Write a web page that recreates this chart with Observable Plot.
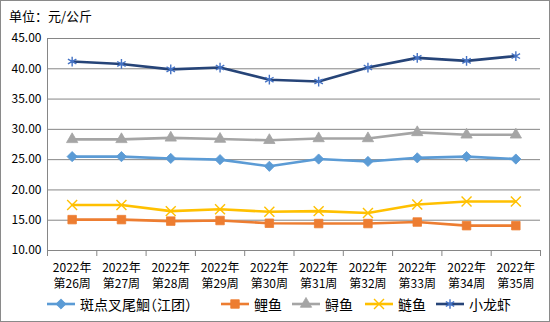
<!DOCTYPE html>
<html>
<head>
<meta charset="utf-8">
<script src="https://cdn.jsdelivr.net/npm/d3@7"></script>
<script src="https://cdn.jsdelivr.net/npm/@observablehq/plot@0.6"></script>
<style>
  html, body { margin: 0; padding: 0; background: #fff; }
  #wrap { position: relative; width: 550px; height: 322px; overflow: hidden; font-family: "Noto Sans CJK SC", sans-serif; }
  #border { position: absolute; left: 0; top: 0; width: 548px; height: 320px; border: 1px solid #8a8a8a; pointer-events: none; }
  #title { position: absolute; left: 9px; top: 8px; font-size: 13px; color: #000; line-height: 16px; }
  #chart { position: absolute; left: 0; top: 0; }
  .leg { position: absolute; top: 295px; display: flex; align-items: center; font-size: 14px; color: #000; line-height: 18px; font-feature-settings: "halt"; }
  .leg svg { margin-right: 5px; }
</style>
</head>
<body>
<div id="wrap">
  <div id="chart"></div>
  <div id="title">单位：元/公斤</div>
  <div id="legend"></div>
  <div id="border"></div>
</div>
<script>
const year = "2022年";
const weeks = ["第26周","第27周","第28周","第29周","第30周","第31周","第32周","第33周","第34周","第35周"];
const yTicks = [10, 15, 20, 25, 30, 35, 40, 45];

const seriesNames = ["斑点叉尾鮰（江团）", "鲤鱼", "鲟鱼", "鲢鱼", "小龙虾"];
const banDian = [25.5, 25.5, 25.2, 25.0, 23.9, 25.1, 24.7, 25.3, 25.5, 25.1];
const liYu    = [15.1, 15.1, 14.85, 14.95, 14.5, 14.45, 14.45, 14.7, 14.1, 14.1];
const xunYu   = [28.35, 28.35, 28.6, 28.4, 28.2, 28.5, 28.5, 29.5, 29.1, 29.1];
const lianYu  = [17.5, 17.5, 16.5, 16.8, 16.4, 16.5, 16.2, 17.6, 18.1, 18.1];
const xiaLongXia = [41.2, 40.8, 39.9, 40.2, 38.2, 37.9, 40.2, 41.8, 41.3, 42.1];

const seriesValues = [banDian, liYu, xunYu, lianYu, xiaLongXia];
const lineColors   = ["#5B9BD5", "#ED7D31", "#A5A5A5", "#FFC000", "#264478"];
const markColors   = ["#5B9BD5", "#ED7D31", "#A5A5A5", "#FFC000", "#4472C4"];
const symbols      = ["diamond2", "square", "triangle", "times", "asterisk"];
const symbolR      = [4.6, 4.8, 4.2, 4.6, 4.6];
const filled       = [true, true, true, false, false];

const centers = weeks.map((_, i) => i + 1);
const bounds = d3.range(weeks.length + 1).map(i => i + 0.5);

const marks = [
  Plot.gridY(yTicks, {stroke: "#868686", strokeOpacity: 1}),
  Plot.axisY(yTicks, {tickSize: 0, tickPadding: 6, tickFormat: d => d.toFixed(2), label: null, fill: "#000"}),
  Plot.ruleX([0.5], {stroke: "#868686"}),
  Plot.ruleY([10], {stroke: "#868686"}),
  Plot.axisX(bounds, {tickSize: 6, tickFormat: () => "", label: null, stroke: "#868686"}),
  Plot.axisX(centers, {tickSize: 0, tickPadding: 10, tickFormat: i => year + "\n" + weeks[i - 1], label: null, lineHeight: 1.35, fill: "#000"})
];

seriesNames.forEach((name, si) => {
  const rows = seriesValues[si].map((v, i) => ({series: name, week: i + 1, value: v}));
  marks.push(Plot.line(rows, {x: "week", y: "value", stroke: lineColors[si], strokeWidth: 2.6, strokeLinejoin: "round"}));
  if (filled[si]) {
    marks.push(Plot.dot(rows, {x: "week", y: "value", symbol: () => symbols[si], r: symbolR[si], fill: markColors[si], stroke: markColors[si], strokeWidth: 0.8}));
  } else {
    marks.push(Plot.dot(rows, {x: "week", y: "value", symbol: () => symbols[si], r: symbolR[si], stroke: markColors[si], strokeWidth: 1.4}));
  }
});

const chart = Plot.plot({
  width: 550, height: 322,
  marginTop: 38, marginBottom: 72, marginLeft: 47, marginRight: 10,
  x: {domain: [0.5, 10.5], axis: null},
  y: {domain: [10, 45], axis: null},
  symbol: {type: "identity"},
  style: {fontFamily: "'Noto Sans CJK SC', sans-serif", fontSize: "12px", background: "transparent", color: "#000"},
  marks
});
document.getElementById("chart").appendChild(chart);

// legend
const legendX = [47, 221, 292, 365, 436];
const legend = document.getElementById("legend");
seriesNames.forEach((name, si) => {
  const div = document.createElement("div");
  div.className = "leg";
  div.style.left = legendX[si] + "px";
  const svg = d3.create("svg").attr("width", 28).attr("height", 18);
  svg.append("line").attr("x1", 0).attr("x2", 28).attr("y1", 9).attr("y2", 9)
    .attr("stroke", lineColors[si]).attr("stroke-width", 2.6);
  const symMap = {diamond2: d3.symbolDiamond2, square: d3.symbolSquare, triangle: d3.symbolTriangle, times: d3.symbolTimes, asterisk: d3.symbolAsterisk};
  const p = svg.append("path").attr("transform", "translate(14,9)")
    .attr("d", d3.symbol(symMap[symbols[si]], Math.PI * symbolR[si] * symbolR[si])());
  if (filled[si]) p.attr("fill", markColors[si]).attr("stroke", markColors[si]).attr("stroke-width", 0.8);
  else p.attr("fill", "none").attr("stroke", markColors[si]).attr("stroke-width", 1.4);
  div.appendChild(svg.node());
  const span = document.createElement("span");
  span.textContent = name;
  div.appendChild(span);
  legend.appendChild(div);
});
</script>
</body>
</html>
